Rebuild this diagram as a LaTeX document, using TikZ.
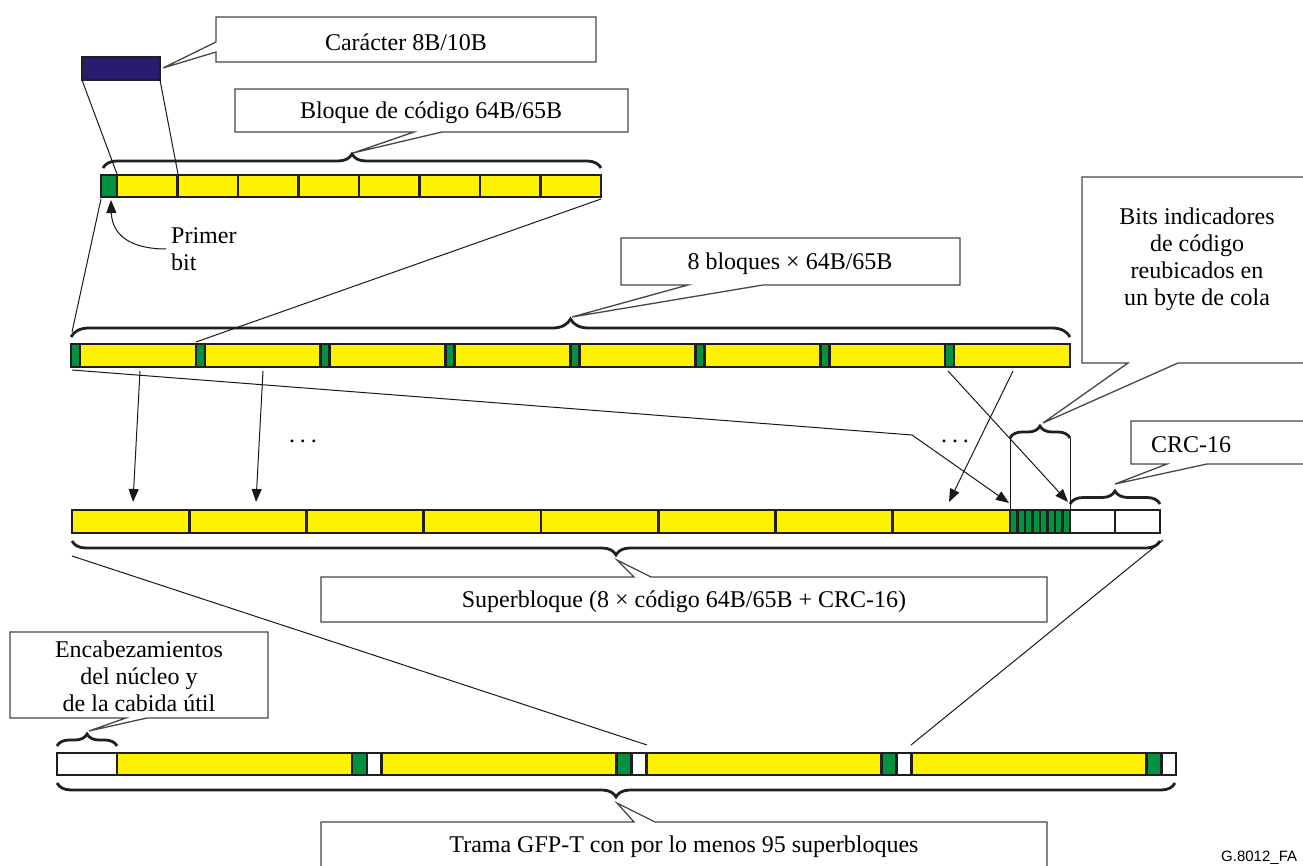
\documentclass[tikz,border=0pt]{standalone}
\usepackage{fontspec}
\setmainfont{Liberation Serif}
\newfontfamily\labelsans{Liberation Sans}
\usetikzlibrary{arrows.meta,decorations.pathreplacing}

\definecolor{cellyellow}{RGB}{255,242,0}
\definecolor{cellgreen}{RGB}{0,146,63}
\definecolor{charnavy}{RGB}{43,27,110}
\definecolor{celledge}{RGB}{35,31,32}
\definecolor{boxedge}{RGB}{70,70,70}

\begin{document}
\begin{tikzpicture}[x=1pt,y=-1pt,
  cell/.style={draw=celledge, line width=2.6pt},
  ycell/.style={cell, fill=cellyellow},
  gcell/.style={cell, fill=cellgreen},
  wcell/.style={cell, fill=white},
  callout/.style={draw=boxedge, line width=1.3pt, fill=white, line join=miter},
  txt/.style={font=\fontsize{24}{27}\selectfont, align=center, inner sep=0pt},
  link/.style={line width=1pt, draw=black!90},
  arrowlink/.style={link, -{Triangle[length=13pt,width=10pt]}},
  bracket/.style={decorate, decoration={brace, amplitude=#1}, line width=2.8pt, draw=celledge}]

\useasboundingbox (0,0) rectangle (1303,866);

% ---------- 8B/10B character ----------
\node[draw=celledge, fill=charnavy, line width=2pt, minimum width=78pt,
      minimum height=23pt, inner sep=0pt, outer sep=0pt] (char8b) at (121,68.5) {};

% ---------- 64B/65B block (row 1) ----------
\draw[gcell] (101,175) rectangle (117,197);
\foreach \i in {0,...,7}
  \draw[ycell] ({117+60.5*\i},175) rectangle ({117+60.5*(\i+1)},197);

% ---------- 8 blocks of 64B/65B (row 2) ----------
\foreach \i in {0,...,7} {
  \draw[ycell] ({71+124.875*\i+9},344) rectangle ({71+124.875*(\i+1)},367);
  \draw[gcell] ({71+124.875*\i},344) rectangle ({71+124.875*\i+9},367);
}

% ---------- superblock (row 3) ----------
\foreach \i in {0,...,7}
  \draw[ycell] ({72+117.25*\i},510) rectangle ({72+117.25*(\i+1)},533);
\foreach \j in {0,...,7}
  \draw[gcell] ({1010+7.5*\j},510) rectangle ({1010+7.5*(\j+1)},533);
\draw[wcell] (1070,510) rectangle (1115,533);
\draw[wcell] (1115,510) rectangle (1160,533);

% ---------- GFP-T frame (row 4) ----------
\draw[wcell] (57,753) rectangle (117,775);
\foreach \k in {0,...,3} {
  \draw[ycell] ({117+264.75*\k},753) rectangle ({117+264.75*\k+235},775);
  \draw[gcell] ({117+264.75*\k+235},753) rectangle ({117+264.75*\k+250},775);
  \draw[wcell] ({117+264.75*\k+250},753) rectangle ({117+264.75*(\k+1)},775);
}

% ---------- braces ----------
\draw[bracket=14pt] (103,168) -- (601,168);
\draw[bracket=18pt] (71,337) -- (1070,337);
\draw[bracket=12pt] (1010,438) -- (1070,438);
\draw[bracket=13pt] (1070,504) -- (1160,504);
\draw[bracket=14pt] (1160,541) -- (72,541);
\draw[bracket=12pt] (57,746) -- (117,746);
\draw[bracket=14pt] (1175,783) -- (57,783);

% ---------- anchor points ----------
\coordinate (r1a)  at (117,174);
\coordinate (r1b)  at (178,174);
\coordinate (r1bl) at (101,199);
\coordinate (r1br) at (601,199);
\coordinate (r2tl) at (72,332);
\coordinate (r2g2) at (196,342);
\coordinate (fbit) at (111,200);

\coordinate (s1) at (140,371);   \coordinate (d1) at (133,502);
\coordinate (s2) at (263,371);   \coordinate (d2) at (256,502);
\coordinate (s3) at (72,370);    \coordinate (bend) at (912,435);
\coordinate (d3) at (1009,503);
\coordinate (s4) at (1013,371);  \coordinate (d4) at (949,502);
\coordinate (s5) at (948,371);   \coordinate (d5) at (1068,502);
\coordinate (b3l) at (1010,438); \coordinate (b3lb) at (1010,509);
\coordinate (b3r) at (1070,438); \coordinate (b3rb) at (1070,509);

\coordinate (r3bl) at (72,556);  \coordinate (r4y2) at (647,745);
\coordinate (r3br) at (1163,540);\coordinate (r4y4) at (911,745);

\coordinate (chartip) at (163,68);
\coordinate (tip1) at (353,153);
\coordinate (tip2) at (572,317);
\coordinate (tip3) at (1043,423);
\coordinate (tip4) at (1115,484);
\coordinate (tip5) at (617,560);
\coordinate (tip6) at (89,731);
\coordinate (tip7) at (617,803);

% ---------- connectors ----------
\draw[link] (char8b.south west) -- (r1a);
\draw[link] (char8b.south east) -- (r1b);
\draw[link] (r1bl) -- (r2tl);
\draw[link] (r1br) -- (r2g2);

\draw[arrowlink] (s1) -- (d1);
\draw[arrowlink] (s2) -- (d2);
\draw[arrowlink] (s3) -- (bend) -- (d3);
\draw[arrowlink] (s4) -- (d4);
\draw[arrowlink] (s5) -- (d5);
\draw[link] (b3l) -- (b3lb);
\draw[link] (b3r) -- (b3rb);

\draw[link] (r3bl) -- (r4y4 -| r4y2);
\draw[link] (r3br) -- (r4y4);

\node[txt] (dotsl) at (303,441) {.\kern5pt.\kern5pt.};
\node[txt] (dotsr) at (955,441) {.\kern5pt.\kern5pt.};

\node[txt, align=left, anchor=west] (pbit) at (171,249) {Primer\\bit};
\draw[arrowlink] ([xshift=-5pt]pbit.west) .. controls (132,249) and (112,236) .. (fbit);

% ---------- callouts ----------
\draw[callout] (216,62) -- (216,52) -- (chartip) -- (216,42) -- (216,17)
  -- (596,17) -- (596,62) -- cycle;
\node[txt] (lchar) at (406,42) {Carácter 8B/10B};

\draw[callout] (235,132) -- (414,132) -- (tip1) -- (442,132) -- (628,132)
  -- (628,89) -- (235,89) -- cycle;
\node[txt] (lblq) at (431,113) {Bloque de código 64B/65B};

\draw[callout] (621,285) -- (688,285) -- (tip2) -- (763,285) -- (960,285)
  -- (960,238) -- (621,238) -- cycle;
\node[txt] (l8b) at (790,264) {8 bloques × 64B/65B};

\draw[callout] (1082,363) -- (1128,363) -- (tip3) -- (1178,363) -- (1315,363)
  -- (1315,177) -- (1082,177) -- cycle;
\node[txt] (lbits) at (1197,259) {Bits indicadores\\de código\\reubicados en\\un byte de cola};

\draw[callout] (1131,464) -- (1167,464) -- (tip4) -- (1207,464) -- (1315,464)
  -- (1315,421) -- (1131,421) -- cycle;
\node[txt] (lcrc) at (1191,445) {CRC-16};

\draw[callout] (321,577) -- (634,577) -- (tip5) -- (651,577) -- (1047,577)
  -- (1047,622) -- (321,622) -- cycle;
\node[txt] (lsup) at (684,602) {Superbloque (8 × código 64B/65B + CRC-16)};

\draw[callout] (10,718) -- (126,718) -- (tip6) -- (147,718) -- (268,718)
  -- (268,632) -- (10,632) -- cycle;
\node[txt] (lenc) at (139,676) {Encabezamientos\\del núcleo y\\de la cabida útil};

\draw[callout] (321,822) -- (634,822) -- (tip7) -- (655,822) -- (1047,822)
  -- (1047,885) -- (321,885) -- cycle;
\node[txt] (ltrama) at (684,847) {Trama GFP-T con por lo menos 95 superbloques};

\node[font=\labelsans\fontsize{15}{15}\selectfont, anchor=west, inner sep=0pt]
  (figid) at (1221,858) {G.8012\_FA};
\end{tikzpicture}
\end{document}
